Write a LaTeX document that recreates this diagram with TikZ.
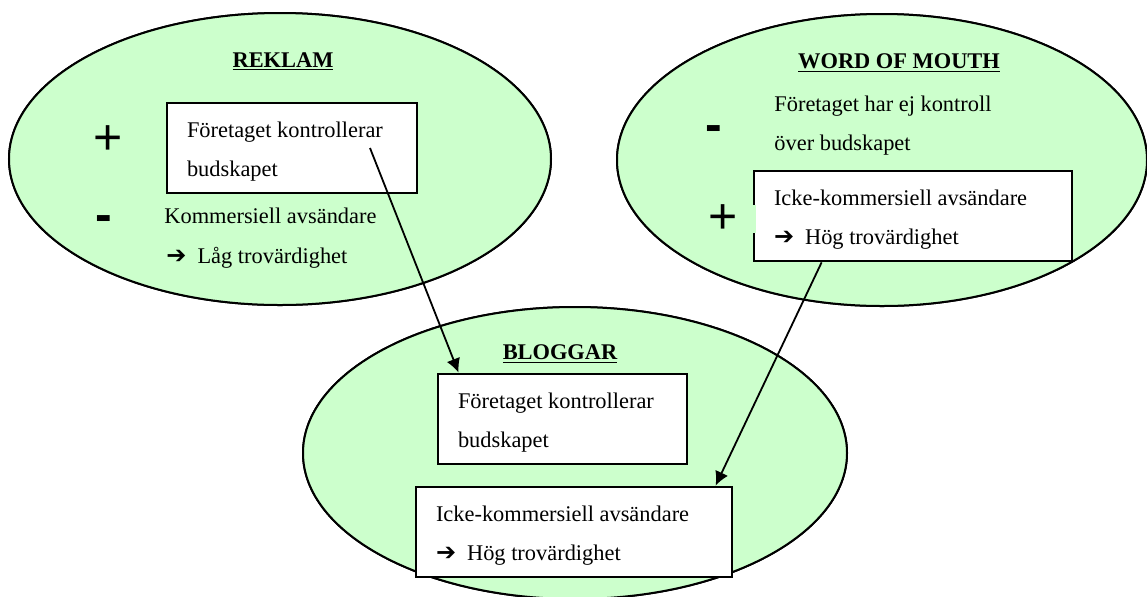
\documentclass[tikz,border=0pt]{standalone}
\usepackage{fontspec}
\setmainfont{Liberation Serif}
\newfontfamily\signfont{Liberation Sans}
\newfontfamily\symfont{DejaVu Sans}
\usetikzlibrary{arrows.meta}
\definecolor{cloudgreen}{RGB}{204,255,204}
\def\TO{{\symfont\bfseries\fontsize{12}{12}\selectfont ➔}\hspace{5.5pt}}
\begin{document}
\begin{tikzpicture}[x=0.5pt,y=-0.5pt,
  cloud/.style={draw,line width=1pt,fill=cloudgreen},
  msg/.style={draw,line width=1.4pt,fill=white,align=flush left,inner xsep=10pt,
    minimum height=45pt,font=\fontsize{11.2}{19.5}\selectfont,
    execute at begin node={\spaceskip=0pt\xspaceskip=0pt\rule{0pt}{11pt}}},
  txt/.style={anchor=base west,inner sep=0pt,font=\fontsize{11.2}{13}\selectfont},
  head/.style={anchor=base,inner sep=0pt,font=\fontsize{11.2}{13}\selectfont\bfseries},
  plus/.style={inner sep=0pt,font=\signfont\fontsize{25}{25}\selectfont},
  minus/.style={anchor=base,inner sep=0pt,font=\signfont\bfseries\fontsize{25}{25}\selectfont},
  link/.style={-{Latex[length=7pt,width=7pt]},line width=0.9pt}]
\useasboundingbox (0,0) rectangle (1147,596);
\fill[cloud] (280,159) ellipse [x radius=271, y radius=146];
\fill[cloud] (882,160) ellipse [x radius=265, y radius=146];
\fill[cloud] (575,453) ellipse [x radius=272, y radius=146];
\draw[cloud] (280,159) ellipse [x radius=271, y radius=146];
\draw[cloud] (882,160) ellipse [x radius=265, y radius=146];
\draw[cloud] (575,453) ellipse [x radius=272, y radius=146];

\node[head] (rtitle) at (283,67) {\underline{REKLAM}};
\node[plus] (rplus) at (108,140) {+};
\node[minus] (rminus) at (104,231) {-};
\node[msg,text width=105pt] (rbox) at (292,148) {Företaget kontrollerar\\budskapet};
\node[txt] (rcon1) at (164,223) {Kommersiell avsändare};
\node[txt] (rcon2) at (166,263) {\TO Låg trovärdighet};

\node[head] (wtitle) at (899,68) {\underline{WORD OF MOUTH}};
\node[minus] (wminus) at (714,141) {-};
\node[txt] (wcon1) at (774,111) {Företaget har ej kontroll};
\node[txt] (wcon2) at (774,150) {över budskapet};
\node[msg,text width=139pt] (wbox) at (913,216) {Icke-kommersiell avsändare\\\TO Hög trovärdighet};
\node[plus,fill=cloudgreen,minimum width=33pt] (wplus) at (723,219) {+};

\node[head] (btitle) at (560,359) {\underline{BLOGGAR}};
\node[msg,text width=104.5pt] (bbox1) at (562.5,419) {Företaget kontrollerar\\budskapet};
\node[msg,text width=138pt] (bbox2) at (574,532) {Icke-kommersiell avsändare\\\TO Hög trovärdighet};

\coordinate (rstart) at (370,148);
\draw[link] (rstart) -- ([xshift=11pt]bbox1.north west);
\draw[link] ([xshift=34.5pt]wbox.south west) -- ([xshift=150.5pt]bbox2.north west);
\end{tikzpicture}
\end{document}
